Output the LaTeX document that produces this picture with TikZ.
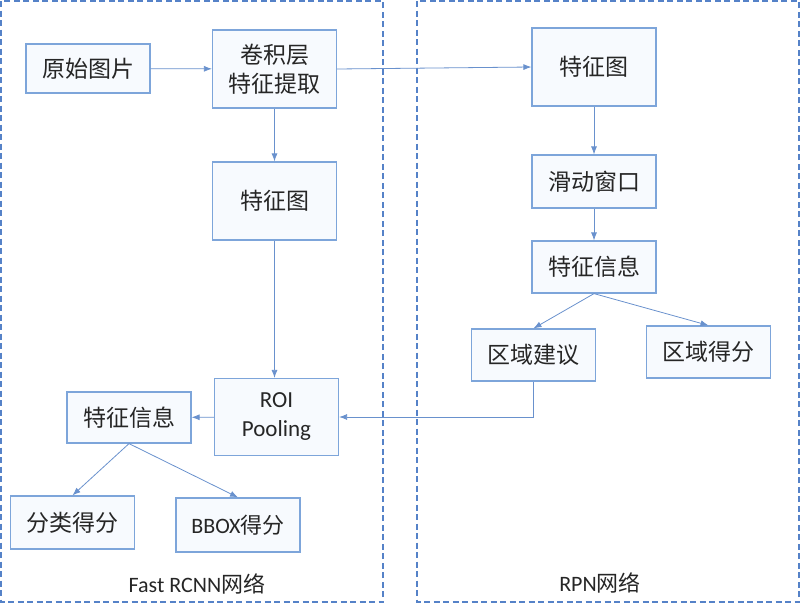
\documentclass[tikz,border=0pt]{standalone}
\usepackage{fontspec}
\setmainfont{Carlito}
\newfontfamily\cjk{Noto Sans CJK SC}
\usetikzlibrary{arrows.meta}
\definecolor{boxline}{RGB}{125,165,218}
\definecolor{boxfill}{RGB}{247,250,254}
\definecolor{arrowline}{RGB}{105,145,205}
\definecolor{frameline}{RGB}{85,130,200}
\begin{document}
\begin{tikzpicture}[x=1pt,y=-1pt,
    stage/.style={draw=boxline,line width=1.2pt,fill=boxfill,inner sep=0pt,
      minimum width=124pt,minimum height=52pt,align=center,
      font=\fontsize{23}{29}\selectfont\cjk,text=black!85},
    flow/.style={draw=arrowline,line width=0.8pt,-{Latex[length=8pt,width=6pt]}},
    frame/.style={draw=frameline,line width=1.1pt,dash pattern=on 6pt off 3.5pt},
    caption/.style={font=\fontsize{22}{26}\selectfont,text=black!85}]
  \useasboundingbox (0,0) rectangle (800,613);
  % the two dashed areas
  \draw[frame] (1,1) rectangle (383,602);
  \draw[frame] (417,1) rectangle (799,602);
  \node[caption] (fastlabel) at (197,584) {Fast RCNN{\cjk 网络}};
  \node[caption] (rpnlabel) at (600,583) {RPN{\cjk 网络}};
  % Fast RCNN side
  \node[stage,minimum height=49pt] (orig) at (88,68.5) {原始图片};
  \node[stage,minimum height=78pt] (conv) at (274.5,69) {卷积层\\特征提取};
  \node[stage,minimum height=78pt] (fmapL) at (274.5,201) {特征图};
  \node[stage,minimum height=77pt,font=\fontsize{23}{29}\selectfont] (roi) at (276.5,417) {ROI\\Pooling};
  \node[stage,minimum height=51pt] (infoL) at (129,417.5) {特征信息};
  \node[stage,minimum height=53pt] (cls) at (72.5,522.5) {分类得分};
  \node[stage,minimum height=54pt,font=\fontsize{22}{28}\selectfont] (bbox) at (238,525) {BBOX{\cjk 得分}};
  % RPN side
  \node[stage,minimum height=78pt] (fmapR) at (594,67) {特征图};
  \node[stage,minimum height=53pt] (slide) at (594,181.5) {滑动窗口};
  \node[stage,minimum height=52pt] (infoR) at (594,267) {特征信息};
  \node[stage,minimum height=52pt] (prop) at (533.5,355) {区域建议};
  \node[stage,minimum height=52pt] (score) at (708.5,352) {区域得分};
  \begin{scope}[flow]
    \draw (orig) -- (conv);
    \draw (conv.east) -- (fmapR.west);
    \draw (conv) -- (fmapL);
    \draw (fmapL.south) -- (fmapL.south |- roi.north);
    \draw (fmapR) -- (slide);
    \draw (slide) -- (infoR);
    \draw (infoR.south) -- (prop.north);
    \draw (infoR.south) -- (score.north);
    \draw (prop.south) |- (roi.east);
    \draw (roi) -- (infoL);
    \draw (infoL.south) -- (cls.north);
    \draw (infoL.south) -- (bbox.north);
  \end{scope}
\end{tikzpicture}
\end{document}
